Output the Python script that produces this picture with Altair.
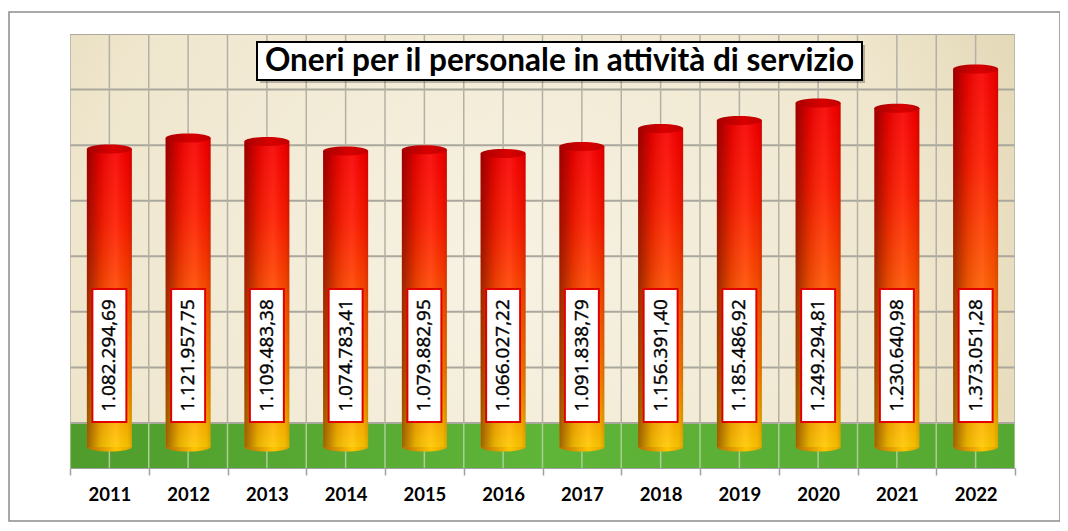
import altair as alt
import pandas as pd

years = ["2011", "2012", "2013", "2014", "2015", "2016", "2017", "2018", "2019", "2020", "2021", "2022"]
values = [1082294.69, 1121957.75, 1109483.38, 1074783.41, 1079882.95, 1066027.22,
          1091838.79, 1156391.40, 1185486.92, 1249294.81, 1230640.98, 1373051.28]
labels = ["1.082.294,69", "1.121.957,75", "1.109.483,38", "1.074.783,41", "1.079.882,95", "1.066.027,22",
          "1.091.838,79", "1.156.391,40", "1.185.486,92", "1.249.294,81", "1.230.640,98", "1.373.051,28"]
grid_y = [0, 200000, 400000, 600000, 800000, 1000000, 1200000, 1400000]
title_text = "Oneri per il personale in attività di servizio"

W, H = 945, 434
WALL_DOMAIN = [-161950, 1400000]
BAR_DOMAIN = [-76272, 1500016]

df = pd.DataFrame({"year": years, "value": values, "label": labels})
one = pd.DataFrame({"k": [0]})
gy = pd.DataFrame({"g": grid_y})
last = pd.DataFrame({"year": [years[-1]]})

bscale = alt.Scale(domain=years, paddingInner=0, paddingOuter=0)
AX = alt.Axis(orient="bottom", labelFont="Lato", labelFontSize=18.5, labelFontWeight="bold",
              labelColor="#000000", labelAngle=0, labelPadding=10, zindex=2,
              domainColor="#a0a0a0", domainWidth=1,
              tickColor="#a0a0a0", tickSize=7, tickWidth=1.5, tickBand="extent")


def X(band=0.5):
    return alt.X("year:N", sort=years, title=None, scale=bscale, axis=AX, bandPosition=band)


wy = alt.Scale(domain=WALL_DOMAIN, nice=False, zero=False)

wall_bg = alt.Chart(one).mark_rect(color={
    "gradient": "radial", "x1": 0.45, "y1": 0.55, "r1": 0, "x2": 0.45, "y2": 0.55, "r2": 0.75,
    "stops": [{"offset": 0, "color": "#f7f2e3"}, {"offset": 0.6, "color": "#efe6cd"},
              {"offset": 1, "color": "#d9cca2"}]}).encode(
    x=alt.value(0), x2=alt.value(W),
    y=alt.Y(datum=1400000, scale=wy, axis=None), y2=alt.Y2(datum=0))

floor = alt.Chart(one).mark_rect(color={
    "gradient": "linear", "x1": 0, "y1": 0, "x2": 1, "y2": 0,
    "stops": [{"offset": 0, "color": "#4f9c2c"}, {"offset": 0.5, "color": "#5fb538"},
              {"offset": 1, "color": "#55a831"}]}).encode(
    x=alt.value(0), x2=alt.value(W),
    y=alt.Y(datum=0, scale=wy, axis=None), y2=alt.Y2(datum=WALL_DOMAIN[0]))

hgrid = alt.Chart(gy).mark_rule(color="#aaa79c", strokeWidth=2, clip=True).encode(
    y=alt.Y("g:Q", scale=wy, axis=None), x=alt.value(0), x2=alt.value(W))

vlayers = []
for src, band in [(df, 0), (df, 0.5), (last, 1)]:
    vlayers.append(alt.Chart(src).mark_rule(color="#b3b0a6", strokeWidth=1.5, clip=True).encode(
        x=X(band), y=alt.Y(datum=1400000, scale=wy, axis=None), y2=alt.Y2(datum=0)))
    vlayers.append(alt.Chart(src).mark_rule(color="#a9cf93", strokeWidth=1.5, clip=True).encode(
        x=X(band), y=alt.Y(datum=0, scale=wy, axis=None), y2=alt.Y2(datum=WALL_DOMAIN[0])))

wall = alt.layer(wall_bg, floor, hgrid, *vlayers)

by = alt.Scale(domain=BAR_DOMAIN, nice=False, zero=False)

ellipse = "M -1 0 A 1 0.2 0 1 1 1 0 A 1 0.2 0 1 1 -1 0 Z"
BW = 45

bottom_cap = alt.Chart(df).mark_point(shape=ellipse, size=BW * BW, filled=True, opacity=1, strokeWidth=0,
    fill={"gradient": "linear", "x1": 0, "y1": 0, "x2": 1, "y2": 0,
          "stops": [{"offset": 0, "color": "#b86a00"}, {"offset": 0.65, "color": "#ffc400"},
                    {"offset": 1, "color": "#e0a000"}]}).encode(
    x=X(), y=alt.Y(datum=0, scale=by, axis=None))

bar = alt.Chart(df).mark_bar(size=BW, color={
    "gradient": "linear", "x1": 0, "y1": 0, "x2": 0, "y2": 1,
    "stops": [{"offset": 0, "color": "#f80000"}, {"offset": 0.25, "color": "#ff1c00"},
              {"offset": 0.5, "color": "#ff4e00"}, {"offset": 0.75, "color": "#ff7e00"},
              {"offset": 0.9, "color": "#ffaa00"}, {"offset": 1, "color": "#ffc800"}]}).encode(
    x=X(), y=alt.Y("value:Q", scale=by, axis=None), y2=alt.Y2(datum=0))

shade = alt.Chart(df).mark_bar(size=BW, color={
    "gradient": "linear", "x1": 0, "y1": 0, "x2": 1, "y2": 0,
    "stops": [{"offset": 0, "color": "rgba(60,0,0,0.5)"}, {"offset": 0.3, "color": "rgba(40,0,0,0.12)"},
              {"offset": 0.65, "color": "rgba(255,255,255,0.08)"}, {"offset": 0.9, "color": "rgba(0,0,0,0.05)"},
              {"offset": 1, "color": "rgba(0,0,0,0.16)"}]}).encode(
    x=X(), y=alt.Y("value:Q", scale=by, axis=None), y2=alt.Y2(datum=0))

top_cap = alt.Chart(df).mark_point(shape=ellipse, size=BW * BW, filled=True, opacity=1, strokeWidth=0,
    fill={"gradient": "linear", "x1": 0, "y1": 0, "x2": 1, "y2": 0,
          "stops": [{"offset": 0, "color": "#a80000"}, {"offset": 0.6, "color": "#d80000"},
                    {"offset": 1, "color": "#c00000"}]}).encode(
    x=X(), y=alt.Y("value:Q", scale=by, axis=None))

boxes = alt.Chart(df).mark_bar(size=34, color="#ffffff", stroke="#e00000", strokeWidth=2).encode(
    x=X(), y=alt.value(255), y2=alt.value(388))

texts = alt.Chart(df).mark_text(angle=270, font="Open Sans", fontSize=19, color="#000000",
                                stroke="#000000", strokeWidth=0.4,
                                align="center", baseline="middle").encode(
    x=X(), y=alt.value(321.5), text="label:N")

bars = alt.layer(bottom_cap, bar, shade, top_cap, boxes, texts)

title_shadow = alt.Chart(one).mark_rect(color="rgba(0,0,0,0.25)").encode(
    x=alt.value(190), x2=alt.value(795), y=alt.value(11), y2=alt.value(49))
title_box = alt.Chart(one).mark_rect(color="#ffffff", stroke="#000000", strokeWidth=2).encode(
    x=alt.value(187), x2=alt.value(792), y=alt.value(8), y2=alt.value(46))
title = alt.Chart(one).mark_text(font="Lato", fontSize=31.5, fontWeight="bold", color="#000000",
                                 align="center", baseline="middle").encode(
    x=alt.value(489.5), y=alt.value(27.5), text=alt.value(title_text))

border = alt.Chart(one).mark_rect(fillOpacity=0, stroke="#8c8c8c", strokeWidth=1.5).encode(
    x=alt.value(-61), x2=alt.value(990), y=alt.value(-22), y2=alt.value(487))

chart = alt.layer(border, wall, bars, title_shadow, title_box, title).resolve_scale(
    y="independent").properties(
    width=W, height=H, autosize=alt.AutoSizeParams(type="none"),
    padding={"left": 62, "top": 26, "right": 45, "bottom": 55}, background="#ffffff"
).configure_view(stroke=None)

chart.save("out.html", embed_options={"renderer": "svg", "actions": False})
